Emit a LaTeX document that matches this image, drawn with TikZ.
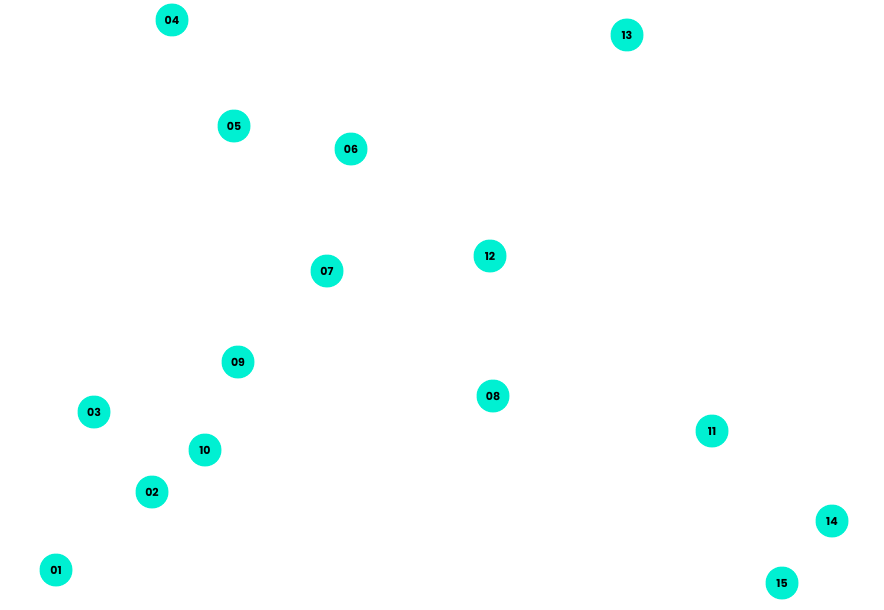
\documentclass[tikz,border=0pt]{standalone}
\usepackage{fontspec}
\setmainfont{Poppins}
\definecolor{dotfill}{HTML}{00F0D2}
\tikzset{
    dot/.style={circle, fill=dotfill, minimum size=33pt, inner sep=0pt, font=\bfseries\fontsize{11pt}{11pt}\selectfont}
}
\begin{document}
\begin{tikzpicture}[x=1pt, y=-1pt]
\useasboundingbox (0,0) rectangle (884,610);

\node[dot] (n01) at (56,570) {01};
\node[dot] (n02) at (152,492) {02};
\node[dot] (n03) at (94,412) {03};
\node[dot] (n04) at (172,20) {04};
\node[dot] (n05) at (234,126) {05};
\node[dot] (n06) at (351,149) {06};
\node[dot] (n07) at (327,271) {07};
\node[dot] (n08) at (493,396) {08};
\node[dot] (n09) at (238,362) {09};
\node[dot] (n10) at (205,450) {10};
\node[dot] (n11) at (712,431) {11};
\node[dot] (n12) at (490,256) {12};
\node[dot] (n13) at (627,35) {13};
\node[dot] (n14) at (832,521) {14};
\node[dot] (n15) at (782,583) {15};

\end{tikzpicture}
\end{document}
